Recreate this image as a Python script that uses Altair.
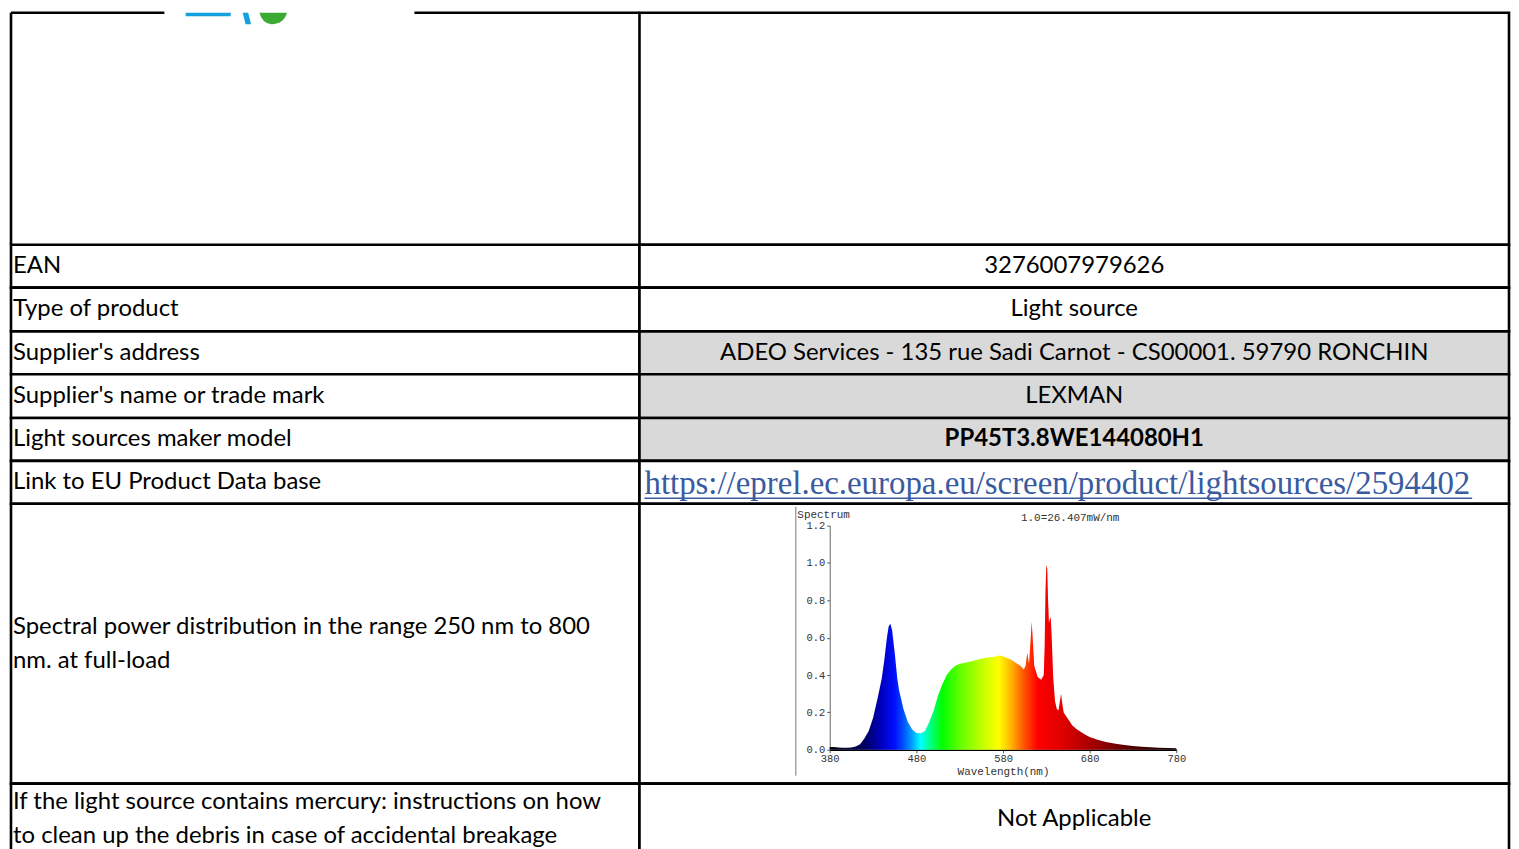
import altair as alt
import pandas as pd

# ---------------- table content ----------------
row_labels = [
    "",
    "EAN",
    "Type of product",
    "Supplier's address",
    "Supplier's name or trade mark",
    "Light sources maker model",
    "Link to EU Product Data base",
    "Spectral power distribution in the range 250 nm to 800\nnm. at full-load",
    "If the light source contains mercury: instructions on how\nto clean up the debris in case of accidental breakage",
]
row_values = [
    "",
    "3276007979626",
    "Light source",
    "ADEO Services - 135 rue Sadi Carnot - CS00001. 59790 RONCHIN",
    "LEXMAN",
    "PP45T3.8WE144080H1",
    "https://eprel.ec.europa.eu/screen/product/lightsources/2594402",
    "",
    "Not Applicable",
]
grey_rows = [False, False, False, True, True, True, False, False, False]
bold_rows = [False, False, False, False, False, True, False, False, False]

# ---------------- spectrum data (relative, 1.0 = 26.407 mW/nm) ----------------
wavelength = [380, 385, 390, 395, 400, 405, 410, 415, 420, 425, 430, 435, 440, 443, 446, 448,
              450, 452, 455, 458, 460, 465, 470, 475, 480, 485, 490, 495, 500, 505, 510, 515,
              520, 525, 530, 535, 540, 545, 550, 555, 560, 565, 570, 575, 580, 585, 590, 595,
              600, 604, 606, 608, 610, 612, 613, 614, 616, 618, 620, 624, 627, 628, 629, 630,
              631, 632, 633, 634, 635, 636, 638, 640, 642, 644, 646, 647, 648, 650, 655, 660,
              665, 670, 675, 680, 690, 700, 710, 720, 730, 740, 750, 760, 770, 780]
intensity = [0.015, 0.015, 0.012, 0.010, 0.010, 0.012, 0.018, 0.03, 0.06, 0.10, 0.17, 0.27, 0.38, 0.48, 0.60, 0.66,
             0.675, 0.64, 0.52, 0.38, 0.32, 0.22, 0.15, 0.11, 0.09, 0.088, 0.10, 0.15, 0.21, 0.29, 0.35, 0.40,
             0.43, 0.45, 0.46, 0.465, 0.47, 0.475, 0.482, 0.487, 0.492, 0.495, 0.498, 0.505, 0.50, 0.49, 0.48, 0.465,
             0.45, 0.43, 0.45, 0.52, 0.46, 0.60, 0.685, 0.62, 0.45, 0.42, 0.39, 0.375, 0.40, 0.55, 0.85, 0.99,
             0.97, 0.80, 0.68, 0.70, 0.71, 0.62, 0.38, 0.26, 0.22, 0.21, 0.27, 0.30, 0.26, 0.20, 0.165, 0.13,
             0.11, 0.095, 0.08, 0.068, 0.052, 0.04, 0.032, 0.026, 0.02, 0.016, 0.013, 0.01, 0.009, 0.008]
x_ticks = [380, 480, 580, 680, 780]
y_ticks = [0.0, 0.2, 0.4, 0.6, 0.8, 1.0, 1.2]
spectrum_note = "1.0=26.407mW/nm"

# ---------------- styling / layout ----------------
FONT = "Lato"
FS = 24
LH = 34
MONO = "Liberation Mono"
BW = 2.6
LEFT_W, RIGHT_W = 631, 873
ROW_H = [233, 43, 44, 43, 44, 43, 43, 281, 72]
GREY = "#d9d9d9"
LINK = "#3a5ba0"
LOGO_BLUE = "#14a0dc"
LOGO_GREEN = "#3aaa35"

# color of the spectrum by wavelength
stop_nm = [380, 420, 440, 455, 465, 475, 485, 495, 510, 530, 555, 575, 590, 605, 620, 650, 690, 730, 780]
stop_col = ["#050510", "#000060", "#0000c0", "#0010ff", "#0050ff", "#00a0ff", "#00ffff", "#00ff90",
            "#00ff00", "#60ff00", "#c0ff00", "#ffff00", "#ffb000", "#ff5000", "#ff0000", "#dd0000",
            "#990000", "#500000", "#100000"]
gradient = alt.LinearGradient(
    gradient="linear", x1=0, x2=1, y1=0, y2=0,
    stops=[alt.GradientStop(offset=(n - 380) / 400, color=c) for n, c in zip(stop_nm, stop_col)],
)


def view(fill="white", stroke="black"):
    return alt.ViewBackground(fill=fill, stroke=stroke, strokeWidth=BW)


def text_layer(text, width, height, align="left", weight="normal", font=FONT, size=FS, color="black"):
    n_lines = text.count("\n") + 1
    return alt.Chart(pd.DataFrame({"t": [text]})).mark_text(
        align=align, baseline="middle", font=font, fontSize=size, fontWeight=weight,
        color=color, lineBreak="\n", lineHeight=LH,
    ).encode(
        text="t:N",
        x=alt.value(2 if align == "left" else width / 2),
        y=alt.value(height / 2 - (n_lines - 1) * LH / 2),
    )


one = pd.DataFrame({"k": [0]})


def logo_piece(shape, color, size, cx, cy):
    return alt.Chart(one).mark_point(
        shape=shape, filled=True, color=color, opacity=1, size=size, clip=True, strokeWidth=0,
    ).encode(x=alt.value(cx), y=alt.value(cy))


cells = []
for i, (lab, val) in enumerate(zip(row_labels, row_values)):
    h = ROW_H[i]
    # ----- left cell -----
    if i == 0:
        left = alt.layer(
            text_layer(lab, LEFT_W, h),
            alt.Chart(one).mark_rule(color="black", strokeWidth=BW).encode(
                x=alt.value(0), y=alt.value(0), y2=alt.value(h)),
            alt.Chart(one).mark_rule(color="black", strokeWidth=BW).encode(
                x=alt.value(0), x2=alt.value(154), y=alt.value(0)),
            alt.Chart(one).mark_rule(color="black", strokeWidth=BW).encode(
                x=alt.value(405), x2=alt.value(LEFT_W), y=alt.value(0)),
            # fragments of the cut-off logo
            logo_piece("M -1 -1 L 1 -1 L 0.92 1 L -0.92 1 Z", LOGO_BLUE, 2400, 198, -21),
            logo_piece("M -0.5 -1 L 0.05 -1 L 0.55 1 L 0 1 Z", LOGO_BLUE, 400, 235.5, 1.5),
            logo_piece("M -1 -1 L 1 -1 L 1 -0.1 Q 0.9 1 -0.1 1 Q -0.9 0.95 -1 -0.3 Z",
                       LOGO_GREEN, 900, 263, -3.5),
        ).properties(width=LEFT_W, height=h, view=view(stroke="transparent"))
    else:
        left = text_layer(lab, LEFT_W, h).properties(width=LEFT_W, height=h, view=view())

    # ----- right cell -----
    fill = GREY if grey_rows[i] else "white"
    if i == 6:
        link = alt.Chart(pd.DataFrame({"t": [val]})).mark_text(
            align="left", baseline="alphabetic", font="Liberation Serif", fontSize=33, color=LINK,
        ).encode(text="t:N", x=alt.value(5), y=alt.value(33))
        underline = alt.Chart(one).mark_rule(color=LINK, strokeWidth=1.5).encode(
            x=alt.value(5), x2=alt.value(836), y=alt.value(37.5))
        right = alt.layer(link, underline).properties(width=RIGHT_W, height=h, view=view(fill))
    elif i == 7:
        spec = pd.DataFrame({"nm": wavelength, "val": intensity})
        xscale = alt.Scale(domain=[380, 780], range=[191, 539], nice=False, zero=False)
        yscale = alt.Scale(domain=[0, 1.2], range=[247, 22], nice=False)
        area = alt.Chart(spec).mark_area(color=gradient, interpolate="linear").encode(
            x=alt.X("nm:Q", scale=xscale, axis=alt.Axis(
                values=x_ticks, offset=-34, grid=False, title="Wavelength(nm)", labelFlush=False,
                labelFont=MONO, labelFontSize=10.5, labelColor="#333", labelPadding=1,
                tickSize=3, tickColor="#555", domainColor="#000", domainWidth=1.5,
                titleFont=MONO, titleFontSize=11, titleFontWeight="normal", titleColor="#333",
                titlePadding=1)),
            y=alt.Y("val:Q", scale=yscale, axis=alt.Axis(
                values=y_ticks, format=".1f", offset=-191, grid=False, title="Spectrum", labelFlush=False,
                labelFont=MONO, labelFontSize=10.5, labelColor="#333", labelPadding=2,
                tickSize=3, tickColor="#555", domainColor="#666", domainWidth=1,
                titleFont=MONO, titleFontSize=11, titleFontWeight="normal", titleColor="#333",
                titleAngle=0, titleAlign="left", titleBaseline="middle", titleX=-33, titleY=11)),
        )
        border = alt.Chart(one).mark_rule(color="#777", strokeWidth=1).encode(
            x=alt.value(157), y=alt.value(3), y2=alt.value(273))
        note = alt.Chart(pd.DataFrame({"t": [spectrum_note]})).mark_text(
            align="left", baseline="middle", font=MONO, fontSize=11, color="#333",
        ).encode(text="t:N", x=alt.value(383), y=alt.value(14))
        right = alt.layer(border, area, note).properties(width=RIGHT_W, height=h, view=view(fill))
    else:
        right = text_layer(val, RIGHT_W, h, align="center",
                           weight="bold" if bold_rows[i] else "normal").properties(
            width=RIGHT_W, height=h, view=view(fill))

    cells.extend([left, right])

chart = alt.concat(*cells, columns=2, spacing=0, bounds="flush").properties(padding=0)

chart.save("out.html", embed_options={"renderer": "svg", "actions": False})
